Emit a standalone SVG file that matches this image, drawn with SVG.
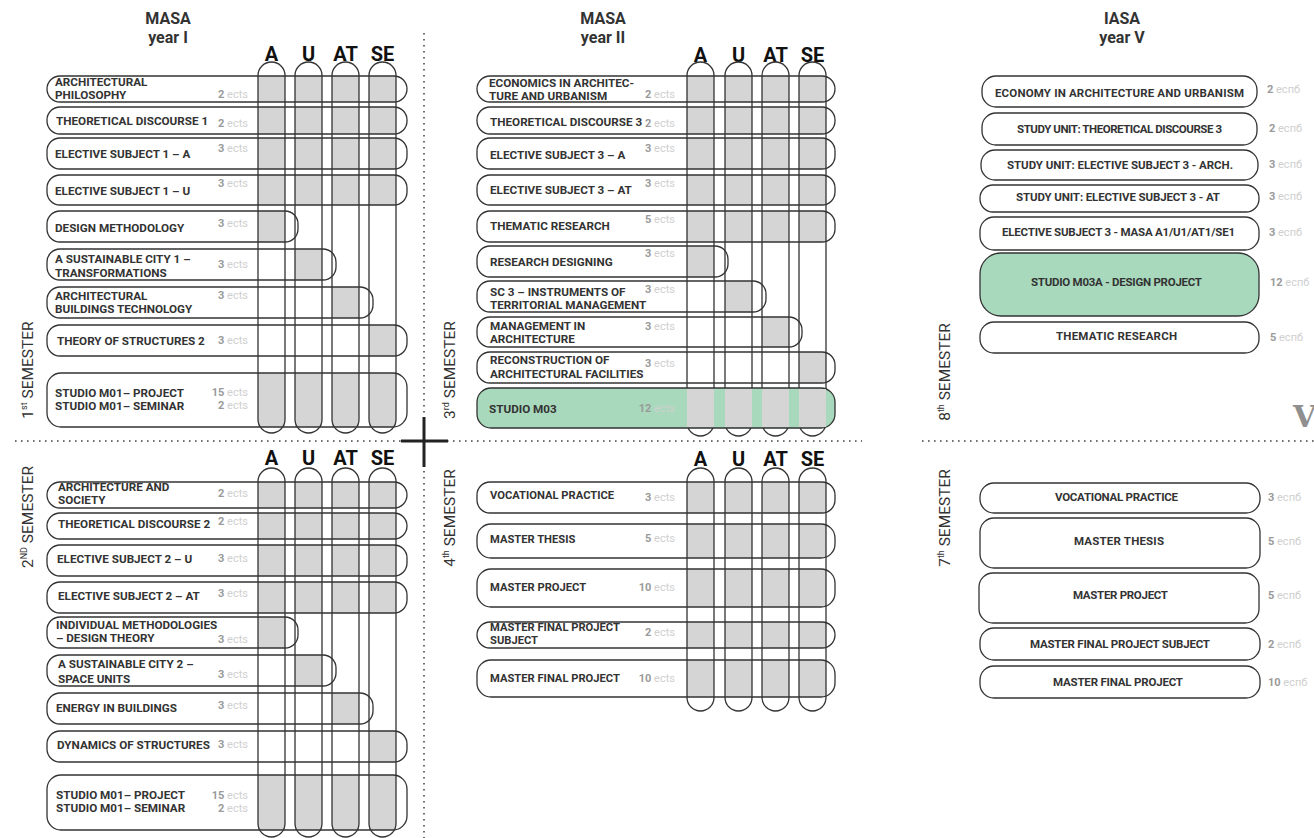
<svg xmlns="http://www.w3.org/2000/svg" xmlns:xlink="http://www.w3.org/1999/xlink" width="1314" height="838" viewBox="0 0 1314 838">
<style>
.row{fill:none;stroke:#333;stroke-width:1.3}
.col{fill:none;stroke:#333;stroke-width:1.3}
.green{fill:#a8d9bc;stroke:#333;stroke-width:1.3}
.g{fill:#d5d5d5}
.t{font-family:Roboto,"Liberation Sans",sans-serif;font-weight:700;font-size:11.7px;fill:#333}
.t2{font-size:11.2px}
.t3{font-size:11.5px;text-anchor:middle}
.e{font-family:Roboto,"Liberation Sans",sans-serif;font-size:11px;fill:#cfcfcf;text-anchor:end}
.e2{font-family:Roboto,"Liberation Sans",sans-serif;font-size:11px;fill:#cfcfcf}
.n{font-weight:700;fill:#9a9a9a}
.h{font-family:Roboto,"Liberation Sans",sans-serif;font-weight:700;font-size:20px;fill:#111;text-anchor:middle}
.ti{font-family:Roboto,"Liberation Sans",sans-serif;font-weight:700;font-size:16px;fill:#333;text-anchor:middle}
.sem{font-family:Roboto,"Liberation Sans",sans-serif;font-size:15.5px;fill:#333;text-anchor:middle}
.dot{fill:none;stroke:#444;stroke-width:1.6;stroke-dasharray:1.6 4.4}
.cross{stroke:#222;stroke-width:3}
</style>
<defs>
<g id="c1"><rect x="258" y="0" width="27" height="1"/><rect x="295" y="0" width="27" height="1"/><rect x="332" y="0" width="27" height="1"/><rect x="369" y="0" width="27" height="1"/></g>
<g id="c2"><rect x="687" y="0" width="27" height="1"/><rect x="725" y="0" width="27" height="1"/><rect x="762" y="0" width="27" height="1"/><rect x="799" y="0" width="27" height="1"/></g>
</defs>

<!-- separators -->
<g id="separators">
<line class="dot" x1="424" y1="33" x2="424" y2="838"/>
<line class="dot" x1="15" y1="441" x2="862" y2="441"/>
<line class="dot" x1="922" y1="441" x2="1314" y2="441"/>
<line class="cross" x1="424" y1="417" x2="424" y2="467"/>
<line class="cross" x1="401" y1="441" x2="448" y2="441"/>
</g>

<!-- titles -->
<g id="titles">
<text class="ti" x="168" y="24">MASA</text><text class="ti" x="168" y="43">year I</text>
<text class="ti" x="603" y="24">MASA</text><text class="ti" x="603" y="43">year II</text>
<text class="ti" x="1122" y="24">IASA</text><text class="ti" x="1122" y="43">year V</text>
<text x="1293" y="427" style="font-family:'DejaVu Serif',serif;font-weight:700;font-size:30px;fill:#8f8f8f">V</text>
</g>

<!-- semester labels -->
<g id="semesters">
<text class="sem" transform="translate(33 370) rotate(-90)">1<tspan font-size="9" dy="-6">st</tspan><tspan dy="6"> SEMESTER</tspan></text>
<text class="sem" transform="translate(33 517) rotate(-90)">2<tspan font-size="9" dy="-6">ND</tspan><tspan dy="6"> SEMESTER</tspan></text>
<text class="sem" transform="translate(455 370) rotate(-90)">3<tspan font-size="9" dy="-6">rd</tspan><tspan dy="6"> SEMESTER</tspan></text>
<text class="sem" transform="translate(455 518) rotate(-90)">4<tspan font-size="9" dy="-6">th</tspan><tspan dy="6"> SEMESTER</tspan></text>
<text class="sem" transform="translate(950 372) rotate(-90)">8<tspan font-size="9" dy="-6">th</tspan><tspan dy="6"> SEMESTER</tspan></text>
<text class="sem" transform="translate(950 518) rotate(-90)">7<tspan font-size="9" dy="-6">th</tspan><tspan dy="6"> SEMESTER</tspan></text>
</g>

<!-- column headers -->
<g id="headers">
<text class="h" x="271.5" y="61">A</text><text class="h" x="308.5" y="61">U</text><text class="h" x="345.5" y="61">AT</text><text class="h" x="382.5" y="61">SE</text>
<text class="h" x="271.5" y="465">A</text><text class="h" x="308.5" y="465">U</text><text class="h" x="345.5" y="465">AT</text><text class="h" x="382.5" y="465">SE</text>
<text class="h" x="700.5" y="62">A</text><text class="h" x="738.5" y="62">U</text><text class="h" x="775.5" y="62">AT</text><text class="h" x="812.5" y="62">SE</text>
<text class="h" x="700.5" y="466">A</text><text class="h" x="738.5" y="466">U</text><text class="h" x="775.5" y="466">AT</text><text class="h" x="812.5" y="466">SE</text>
</g>

<!-- gray cells -->
<g id="cells" class="g">
<use xlink:href="#c1" transform="translate(0 76) scale(1 26)"/>
<use xlink:href="#c1" transform="translate(0 107) scale(1 27)"/>
<use xlink:href="#c1" transform="translate(0 138) scale(1 31)"/>
<use xlink:href="#c1" transform="translate(0 175) scale(1 30)"/>
<rect x="258" y="211" width="27" height="31"/>
<rect x="295" y="249" width="27" height="31"/>
<rect x="332" y="287" width="27" height="31"/>
<rect x="369" y="325" width="27" height="31"/>
<use xlink:href="#c1" transform="translate(0 373) scale(1 54)"/>
<use xlink:href="#c1" transform="translate(0 482) scale(1 26)"/>
<use xlink:href="#c1" transform="translate(0 513) scale(1 26)"/>
<use xlink:href="#c1" transform="translate(0 545) scale(1 31)"/>
<use xlink:href="#c1" transform="translate(0 582) scale(1 31)"/>
<rect x="258" y="617" width="27" height="31"/>
<rect x="295" y="655" width="27" height="31"/>
<rect x="332" y="693" width="27" height="31"/>
<rect x="369" y="731" width="27" height="31"/>
<use xlink:href="#c1" transform="translate(0 775) scale(1 55)"/>
<use xlink:href="#c2" transform="translate(0 76) scale(1 26)"/>
<use xlink:href="#c2" transform="translate(0 107) scale(1 27)"/>
<use xlink:href="#c2" transform="translate(0 138) scale(1 31)"/>
<use xlink:href="#c2" transform="translate(0 175) scale(1 30)"/>
<use xlink:href="#c2" transform="translate(0 211) scale(1 31)"/>
<rect x="687" y="246" width="27" height="31"/>
<rect x="725" y="281" width="27" height="31"/>
<rect x="762" y="317" width="27" height="30"/>
<rect x="799" y="352" width="27" height="31"/>
<use xlink:href="#c2" transform="translate(0 482) scale(1 31)"/>
<use xlink:href="#c2" transform="translate(0 524) scale(1 34)"/>
<use xlink:href="#c2" transform="translate(0 569) scale(1 38)"/>
<use xlink:href="#c2" transform="translate(0 622) scale(1 26)"/>
<use xlink:href="#c2" transform="translate(0 660) scale(1 37)"/>
</g>

<!-- MASA year I, 1st semester -->
<g id="y1s1-r1"><rect class="row" x="47" y="76" width="360" height="26" rx="13"/><text class="t" x="55" y="86">ARCHITECTURAL</text><text class="t" x="55" y="99">PHILOSOPHY</text><text class="e" x="248" y="98"><tspan class="n">2</tspan> ects</text></g>
<g id="y1s1-r2"><rect class="row" x="47" y="107" width="360" height="27" rx="13"/><text class="t" x="56" y="125">THEORETICAL DISCOURSE 1</text><text class="e" x="248" y="127"><tspan class="n">2</tspan> ects</text></g>
<g id="y1s1-r3"><rect class="row" x="47" y="138" width="360" height="31" rx="13"/><text class="t" x="55" y="158">ELECTIVE SUBJECT 1 – A</text><text class="e" x="248" y="152"><tspan class="n">3</tspan> ects</text></g>
<g id="y1s1-r4"><rect class="row" x="47" y="175" width="360" height="30" rx="13"/><text class="t" x="55" y="195">ELECTIVE SUBJECT 1 – U</text><text class="e" x="248" y="187"><tspan class="n">3</tspan> ects</text></g>
<g id="y1s1-r5"><rect class="row" x="47" y="211" width="251" height="31" rx="13"/><text class="t" x="55" y="232">DESIGN METHODOLOGY</text><text class="e" x="248" y="227"><tspan class="n">3</tspan> ects</text></g>
<g id="y1s1-r6"><rect class="row" x="47" y="249" width="289" height="31" rx="13"/><text class="t" x="55" y="263">A SUSTAINABLE CITY 1 –</text><text class="t" x="55" y="277">TRANSFORMATIONS</text><text class="e" x="248" y="268"><tspan class="n">3</tspan> ects</text></g>
<g id="y1s1-r7"><rect class="row" x="47" y="287" width="326" height="31" rx="13"/><text class="t" x="55" y="300">ARCHITECTURAL</text><text class="t" x="55" y="313">BUILDINGS TECHNOLOGY</text><text class="e" x="248" y="299"><tspan class="n">3</tspan> ects</text></g>
<g id="y1s1-r8"><rect class="row" x="47" y="325" width="360" height="31" rx="13"/><text class="t" x="57" y="345">THEORY OF STRUCTURES 2</text><text class="e" x="248" y="344"><tspan class="n">3</tspan> ects</text></g>
<g id="y1s1-r9"><rect class="row" x="47" y="373" width="360" height="54" rx="14"/><text class="t" x="55" y="397">STUDIO M01– PROJECT</text><text class="t" x="55" y="410">STUDIO M01– SEMINAR</text><text class="e" x="248" y="396"><tspan class="n">15</tspan> ects</text><text class="e" x="248" y="409"><tspan class="n">2</tspan> ects</text></g>

<!-- MASA year I, 2nd semester -->
<g id="y1s2-r1"><rect class="row" x="47" y="482" width="360" height="26" rx="13"/><text class="t" x="58" y="491">ARCHITECTURE AND</text><text class="t" x="58" y="504">SOCIETY</text><text class="e" x="248" y="497"><tspan class="n">2</tspan> ects</text></g>
<g id="y1s2-r2"><rect class="row" x="47" y="513" width="360" height="26" rx="13"/><text class="t" x="58" y="528">THEORETICAL DISCOURSE 2</text><text class="e" x="248" y="525"><tspan class="n">2</tspan> ects</text></g>
<g id="y1s2-r3"><rect class="row" x="47" y="545" width="360" height="31" rx="13"/><text class="t" x="57" y="563">ELECTIVE SUBJECT 2 – U</text><text class="e" x="248" y="562"><tspan class="n">3</tspan> ects</text></g>
<g id="y1s2-r4"><rect class="row" x="47" y="582" width="360" height="31" rx="13"/><text class="t" x="58" y="600">ELECTIVE SUBJECT 2 – AT</text><text class="e" x="248" y="597"><tspan class="n">3</tspan> ects</text></g>
<g id="y1s2-r5"><rect class="row" x="47" y="617" width="251" height="31" rx="13"/><text class="t" x="56" y="629">INDIVIDUAL METHODOLOGIES</text><text class="t" x="56" y="642">– DESIGN THEORY</text><text class="e" x="248" y="643"><tspan class="n">3</tspan> ects</text></g>
<g id="y1s2-r6"><rect class="row" x="47" y="655" width="289" height="31" rx="13"/><text class="t" x="58" y="668">A SUSTAINABLE CITY 2 –</text><text class="t" x="58" y="683">SPACE UNITS</text><text class="e" x="248" y="678"><tspan class="n">3</tspan> ects</text></g>
<g id="y1s2-r7"><rect class="row" x="47" y="693" width="326" height="31" rx="13"/><text class="t" x="56" y="712">ENERGY IN BUILDINGS</text><text class="e" x="248" y="709"><tspan class="n">3</tspan> ects</text></g>
<g id="y1s2-r8"><rect class="row" x="47" y="731" width="360" height="31" rx="13"/><text class="t" x="57" y="749">DYNAMICS OF STRUCTURES</text><text class="e" x="248" y="748"><tspan class="n">3</tspan> ects</text></g>
<g id="y1s2-r9"><rect class="row" x="47" y="775" width="360" height="55" rx="14"/><text class="t" x="56" y="799">STUDIO M01– PROJECT</text><text class="t" x="56" y="812">STUDIO M01– SEMINAR</text><text class="e" x="248" y="799"><tspan class="n">15</tspan> ects</text><text class="e" x="248" y="812"><tspan class="n">2</tspan> ects</text></g>

<!-- MASA year II, 3rd semester -->
<g id="y2s3-r1"><rect class="row" x="477" y="76" width="358" height="26" rx="13"/><text class="t" x="489" y="87">ECONOMICS IN ARCHITEC-</text><text class="t" x="489" y="100">TURE AND URBANISM</text><text class="e" x="675" y="98"><tspan class="n">2</tspan> ects</text></g>
<g id="y2s3-r2"><rect class="row" x="477" y="107" width="358" height="27" rx="13"/><text class="t" x="490" y="126">THEORETICAL DISCOURSE 3</text><text class="e" x="675" y="127"><tspan class="n">2</tspan> ects</text></g>
<g id="y2s3-r3"><rect class="row" x="477" y="138" width="358" height="31" rx="13"/><text class="t" x="490" y="159">ELECTIVE SUBJECT 3 – A</text><text class="e" x="675" y="152"><tspan class="n">3</tspan> ects</text></g>
<g id="y2s3-r4"><rect class="row" x="477" y="175" width="358" height="30" rx="13"/><text class="t" x="490" y="194">ELECTIVE SUBJECT 3 – AT</text><text class="e" x="675" y="187"><tspan class="n">3</tspan> ects</text></g>
<g id="y2s3-r5"><rect class="row" x="477" y="211" width="358" height="31" rx="13"/><text class="t" x="490" y="230">THEMATIC RESEARCH</text><text class="e" x="675" y="223"><tspan class="n">5</tspan> ects</text></g>
<g id="y2s3-r6"><rect class="row" x="477" y="246" width="251" height="31" rx="13"/><text class="t" x="490" y="266">RESEARCH DESIGNING</text><text class="e" x="675" y="257"><tspan class="n">3</tspan> ects</text></g>
<g id="y2s3-r7"><rect class="row" x="477" y="281" width="289" height="31" rx="13"/><text class="t" x="490" y="296">SC 3 – INSTRUMENTS OF</text><text class="t" x="490" y="309">TERRITORIAL MANAGEMENT</text><text class="e" x="675" y="293"><tspan class="n">3</tspan> ects</text></g>
<g id="y2s3-r8"><rect class="row" x="477" y="317" width="325" height="30" rx="13"/><text class="t" x="490" y="330">MANAGEMENT IN</text><text class="t" x="490" y="343">ARCHITECTURE</text><text class="e" x="675" y="330"><tspan class="n">3</tspan> ects</text></g>
<g id="y2s3-r9"><rect class="row" x="477" y="352" width="358" height="31" rx="13"/><text class="t" x="490" y="364">RECONSTRUCTION OF</text><text class="t" x="490" y="378">ARCHITECTURAL FACILITIES</text><text class="e" x="675" y="367"><tspan class="n">3</tspan> ects</text></g>

<!-- MASA year II, 4th semester -->
<g id="y2s4-r1"><rect class="row" x="477" y="482" width="358" height="31" rx="13"/><text class="t t2" x="490" y="499">VOCATIONAL PRACTICE</text><text class="e" x="675" y="501"><tspan class="n">3</tspan> ects</text></g>
<g id="y2s4-r2"><rect class="row" x="477" y="524" width="358" height="34" rx="14"/><text class="t t2" x="490" y="543">MASTER THESIS</text><text class="e" x="675" y="542"><tspan class="n">5</tspan> ects</text></g>
<g id="y2s4-r3"><rect class="row" x="477" y="569" width="358" height="38" rx="14"/><text class="t t2" x="490" y="591">MASTER PROJECT</text><text class="e" x="675" y="591"><tspan class="n">10</tspan> ects</text></g>
<g id="y2s4-r4"><rect class="row" x="477" y="622" width="358" height="26" rx="13"/><text class="t t2" x="490" y="631">MASTER FINAL PROJECT</text><text class="t t2" x="490" y="644">SUBJECT</text><text class="e" x="675" y="636"><tspan class="n">2</tspan> ects</text></g>
<g id="y2s4-r5"><rect class="row" x="477" y="660" width="358" height="37" rx="14"/><text class="t t2" x="490" y="682">MASTER FINAL PROJECT</text><text class="e" x="675" y="682"><tspan class="n">10</tspan> ects</text></g>

<!-- columns -->
<g id="columns">
<rect class="col" x="258" y="62" width="27" height="371" rx="13.5"/><rect class="col" x="295" y="62" width="27" height="371" rx="13.5"/><rect class="col" x="332" y="62" width="27" height="371" rx="13.5"/><rect class="col" x="369" y="62" width="27" height="371" rx="13.5"/>
<rect class="col" x="258" y="468" width="27" height="369" rx="13.5"/><rect class="col" x="295" y="468" width="27" height="369" rx="13.5"/><rect class="col" x="332" y="468" width="27" height="369" rx="13.5"/><rect class="col" x="369" y="468" width="27" height="369" rx="13.5"/>
<rect class="col" x="687" y="62" width="27" height="374" rx="13.5"/><rect class="col" x="725" y="62" width="27" height="374" rx="13.5"/><rect class="col" x="762" y="62" width="27" height="374" rx="13.5"/><rect class="col" x="799" y="62" width="27" height="374" rx="13.5"/>
<rect class="col" x="687" y="468" width="27" height="243" rx="13.5"/><rect class="col" x="725" y="468" width="27" height="243" rx="13.5"/><rect class="col" x="762" y="468" width="27" height="243" rx="13.5"/><rect class="col" x="799" y="468" width="27" height="243" rx="13.5"/>
</g>

<g id="y2s3-r10"><rect class="green" x="477" y="388" width="358" height="40" rx="14"/><use xlink:href="#c2" class="g" transform="translate(0 389) scale(1 38)"/><text class="t" x="489" y="413">STUDIO M03</text><text class="e" x="675" y="412"><tspan class="n">12</tspan> ects</text></g>

<!-- IASA year V, 8th semester -->
<g id="y5s8-r1"><rect class="row" x="982" y="76" width="275" height="31" rx="14"/><text class="t t3" x="1119.5" y="97" textLength="249">ECONOMY IN ARCHITECTURE AND URBANISM</text><text class="e2" x="1267" y="93"><tspan class="n">2</tspan> еспб</text></g>
<g id="y5s8-r2"><rect class="row" x="982" y="113" width="275" height="32" rx="14"/><text class="t t3" x="1119.5" y="133" textLength="205">STUDY UNIT: THEORETICAL DISCOURSE 3</text><text class="e2" x="1269" y="132"><tspan class="n">2</tspan> еспб</text></g>
<g id="y5s8-r3"><rect class="row" x="981" y="150" width="277" height="30" rx="14"/><text class="t t3" x="1120" y="169" textLength="226">STUDY UNIT:  ELECTIVE SUBJECT 3 - ARCH.</text><text class="e2" x="1269" y="168"><tspan class="n">3</tspan> еспб</text></g>
<g id="y5s8-r4"><rect class="row" x="980" y="185" width="279" height="27" rx="13"/><text class="t t3" x="1118" y="201" textLength="204">STUDY UNIT: ELECTIVE SUBJECT 3 - AT</text><text class="e2" x="1269" y="200"><tspan class="n">3</tspan> еспб</text></g>
<g id="y5s8-r5"><rect class="row" x="980" y="217" width="279" height="33" rx="14"/><text class="t t3" x="1118.5" y="236" textLength="233">ELECTIVE SUBJECT 3 - MASA A1/U1/AT1/SE1</text><text class="e2" x="1269" y="236"><tspan class="n">3</tspan> еспб</text></g>
<g id="y5s8-r6"><rect class="green" x="980" y="253" width="279" height="63" rx="21"/><text class="t t3" x="1116.5" y="286" textLength="171">STUDIO M03A - DESIGN PROJECT</text><text class="e2" x="1270" y="286"><tspan class="n">12</tspan> еспб</text></g>
<g id="y5s8-r7"><rect class="row" x="980" y="322" width="279" height="31" rx="14"/><text class="t t3" x="1116.5" y="340" textLength="121">THEMATIC RESEARCH</text><text class="e2" x="1270" y="341"><tspan class="n">5</tspan> еспб</text></g>

<!-- IASA year V, 7th semester -->
<g id="y5s7-r1"><rect class="row" x="980" y="483" width="280" height="30" rx="14"/><text class="t t3" x="1116.5" y="501" textLength="123">VOCATIONAL PRACTICE</text><text class="e2" x="1268" y="501"><tspan class="n">3</tspan> еспб</text></g>
<g id="y5s7-r2"><rect class="row" x="980" y="518" width="280" height="50" rx="14"/><text class="t t3" x="1119" y="545" textLength="90">MASTER THESIS</text><text class="e2" x="1268" y="545"><tspan class="n">5</tspan> еспб</text></g>
<g id="y5s7-r3"><rect class="row" x="979" y="573" width="280" height="50" rx="14"/><text class="t t3" x="1120.5" y="599" textLength="95">MASTER PROJECT</text><text class="e2" x="1268" y="599"><tspan class="n">5</tspan> еспб</text></g>
<g id="y5s7-r4"><rect class="row" x="980" y="628" width="280" height="32" rx="14"/><text class="t t3" x="1120" y="648" textLength="180">MASTER FINAL PROJECT SUBJECT</text><text class="e2" x="1268" y="648"><tspan class="n">2</tspan> еспб</text></g>
<g id="y5s7-r5"><rect class="row" x="980" y="666" width="280" height="32" rx="14"/><text class="t t3" x="1118" y="686" textLength="130">MASTER FINAL PROJECT</text><text class="e2" x="1268" y="686"><tspan class="n">10</tspan> еспб</text></g>
</svg>
